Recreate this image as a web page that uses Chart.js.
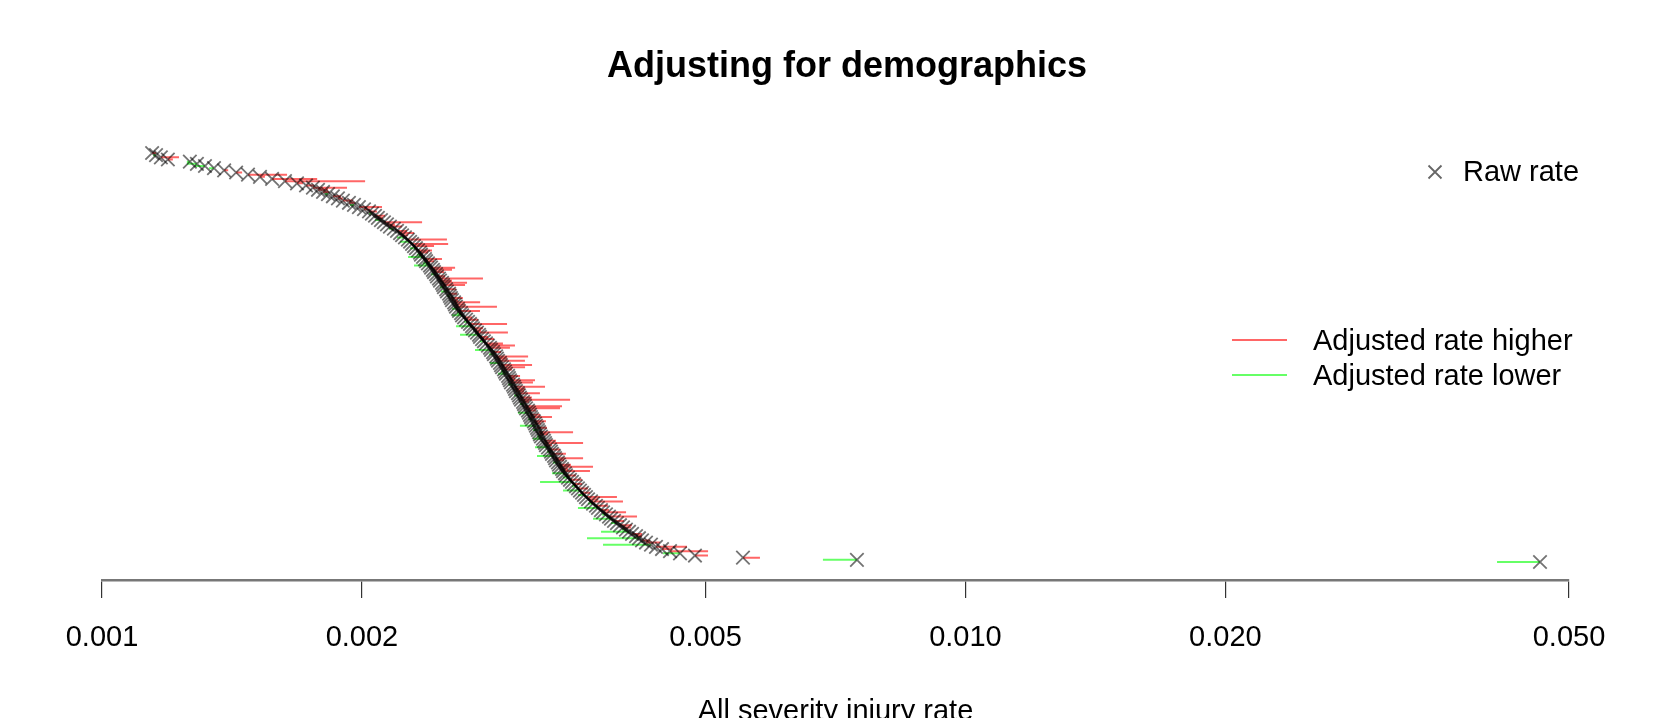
<!DOCTYPE html>
<html>
<head>
<meta charset="utf-8">
<script src="https://cdn.jsdelivr.net/npm/chart.js@4.4.1/dist/chart.umd.min.js"></script>
<style>
  html, body { margin: 0; padding: 0; overflow: hidden; background: #fff; }
</style>
</head>
<body>
<canvas id="myChart" width="1679" height="740"></canvas>
<script>
// raw rates, sorted (rank 0 at the top)
const rawRate = [
  0.001143, 0.001155, 0.001170, 0.001192, 0.001264, 0.001288, 0.001316, 0.001348, 0.001385, 0.001430,
  0.001476, 0.001524, 0.001574, 0.001629, 0.001682, 0.001723, 0.001755, 0.001779, 0.001803, 0.001827,
  0.001851, 0.001876, 0.001901, 0.001932, 0.001958, 0.001984, 0.002011, 0.002038, 0.002054, 0.002071,
  0.002087, 0.002104, 0.002121, 0.002138, 0.002155, 0.002178, 0.002196, 0.002214, 0.002226, 0.002243,
  0.002261, 0.002274, 0.002286, 0.002298, 0.002310, 0.002323, 0.002335, 0.002341, 0.002354, 0.002366,
  0.002373, 0.002385, 0.002398, 0.002405, 0.002417, 0.002424, 0.002437, 0.002443, 0.002456, 0.002463,
  0.002476, 0.002483, 0.002489, 0.002503, 0.002509, 0.002523, 0.002529, 0.002536, 0.002543, 0.002557,
  0.002563, 0.002570, 0.002584, 0.002591, 0.002605, 0.002612, 0.002626, 0.002640, 0.002654, 0.002668,
  0.002682, 0.002689, 0.002704, 0.002718, 0.002733, 0.002740, 0.002755, 0.002769, 0.002784, 0.002799,
  0.002814, 0.002822, 0.002837, 0.002844, 0.002860, 0.002867, 0.002875, 0.002890, 0.002898, 0.002906,
  0.002921, 0.002929, 0.002937, 0.002953, 0.002960, 0.002968, 0.002976, 0.002992, 0.003000, 0.003008,
  0.003016, 0.003032, 0.003040, 0.003048, 0.003057, 0.003073, 0.003081, 0.003089, 0.003098, 0.003114,
  0.003122, 0.003131, 0.003139, 0.003148, 0.003164, 0.003173, 0.003181, 0.003190, 0.003198, 0.003207,
  0.003215, 0.003224, 0.003241, 0.003250, 0.003259, 0.003267, 0.003285, 0.003302, 0.003311, 0.003320,
  0.003338, 0.003347, 0.003356, 0.003373, 0.003382, 0.003392, 0.003410, 0.003419, 0.003437, 0.003446,
  0.003465, 0.003483, 0.003502, 0.003521, 0.003539, 0.003558, 0.003577, 0.003597, 0.003616, 0.003635,
  0.003655, 0.003684, 0.003704, 0.003733, 0.003753, 0.003783, 0.003804, 0.003834, 0.003865, 0.003886,
  0.003917, 0.003948, 0.003980, 0.004012, 0.004044, 0.004077, 0.004110, 0.004154, 0.004187, 0.004221,
  0.004266, 0.004323, 0.004381, 0.004452, 0.004548, 0.004671, 0.004861, 0.005525, 0.007487, 0.04628
];

// demographically adjusted rates, same order
const adjRate = [
  0.001155, 0.001146, 0.001228, 0.001208, 0.001254, 0.001254, 0.001281, 0.001330, 0.001400, 0.001453,
  0.001638, 0.001544, 0.001775, 0.002017, 0.001709, 0.001760, 0.001922, 0.001827, 0.001832, 0.001812,
  0.001891, 0.001901, 0.001952, 0.001963, 0.001937, 0.002110, 0.002043, 0.002082, 0.002038, 0.002127,
  0.002115, 0.002071, 0.002348, 0.002184, 0.002225, 0.002149, 0.002255, 0.002298, 0.002262, 0.002196,
  0.002509, 0.002214, 0.002517, 0.002424, 0.002273, 0.002411, 0.002385, 0.002316, 0.002262, 0.002476,
  0.002424, 0.002354, 0.002298, 0.002564, 0.002543, 0.002489, 0.002405, 0.002496, 0.002762, 0.002543,
  0.002647, 0.002633, 0.002463, 0.002571, 0.002469, 0.002577, 0.002509, 0.002618, 0.002584, 0.002741,
  0.002632, 0.002867, 0.002543, 0.002740, 0.002577, 0.002543, 0.002683, 0.002726, 0.002626, 0.002945,
  0.002570, 0.002762, 0.002748, 0.002952, 0.002598, 0.002799, 0.002845, 0.002740, 0.002913, 0.003008,
  0.002968, 0.002704, 0.002898, 0.002806, 0.003115, 0.002944, 0.003089, 0.002814, 0.003148, 0.003090,
  0.002984, 0.002898, 0.002875, 0.003049, 0.003008, 0.003173, 0.003156, 0.002953, 0.003259, 0.003089,
  0.003081, 0.003215, 0.003000, 0.003147, 0.003484, 0.003122, 0.003048, 0.003410, 0.003392, 0.003181,
  0.003032, 0.003216, 0.003320, 0.003115, 0.003267, 0.003224, 0.003048, 0.003276, 0.003156, 0.003512,
  0.003284, 0.003190, 0.003156, 0.003356, 0.003607, 0.003320, 0.003173, 0.003391, 0.003276, 0.003446,
  0.003190, 0.003607, 0.003428, 0.003328, 0.003492, 0.003704, 0.003465, 0.003674, 0.003320, 0.003539,
  0.003419, 0.003596, 0.003216, 0.003597, 0.003502, 0.003654, 0.003419, 0.003675, 0.003558, 0.003948,
  0.003754, 0.004012, 0.003655, 0.003854, 0.003558, 0.003865, 0.004045, 0.003793, 0.004165, 0.003704,
  0.004023, 0.003885, 0.004109, 0.004099, 0.004001, 0.003784, 0.004221, 0.004221, 0.003645, 0.004312,
  0.004428, 0.003804, 0.004759, 0.004572, 0.005034, 0.004464, 0.005033, 0.005781, 0.006838, 0.04127
];

const tickValues = [0.001, 0.002, 0.005, 0.010, 0.020, 0.050];
const tickLabels = ['0.001', '0.002', '0.005', '0.010', '0.020', '0.050'];

const FONT = '"Liberation Sans", Arial, Helvetica, sans-serif';
Chart.defaults.font.family = FONT;
Chart.defaults.color = '#000';

// one segment per unit, broken with a null point
const higherPts = [];
const lowerPts = [];
rawRate.forEach(function(r, i) {
    const a = adjRate[i];
    const target = a >= r ? higherPts : lowerPts;
    target.push({x: r, y: i}, {x: a, y: i}, {x: r, y: null});
});

// R style title and legends drawn on top
const rDecor = {
    id: 'rDecor',
    afterDraw: function(chart) {
        const ctx = chart.ctx;
        ctx.save();
        ctx.fillStyle = '#000';
        ctx.textBaseline = 'middle';

        ctx.textAlign = 'center';
        ctx.font = 'bold 36px ' + FONT;
        ctx.fillText('Adjusting for demographics', 847, 67);

        ctx.textAlign = 'left';
        ctx.font = '29px ' + FONT;
        ctx.strokeStyle = 'rgba(0,0,0,0.6)';
        ctx.lineWidth = 1.8;
        const cx = 1435, cy = 172, h = 6.5;
        ctx.beginPath();
        ctx.moveTo(cx - h, cy - h); ctx.lineTo(cx + h, cy + h);
        ctx.moveTo(cx + h, cy - h); ctx.lineTo(cx - h, cy + h);
        ctx.stroke();
        ctx.fillText('Raw rate', 1463, cy + 1);

        ctx.lineWidth = 2;
        ctx.strokeStyle = 'rgba(255,0,0,0.6)';
        ctx.beginPath(); ctx.moveTo(1232, 340); ctx.lineTo(1287, 340); ctx.stroke();
        ctx.fillText('Adjusted rate higher', 1313, 342);

        ctx.strokeStyle = 'rgba(0,255,0,0.6)';
        ctx.beginPath(); ctx.moveTo(1232, 375); ctx.lineTo(1287, 375); ctx.stroke();
        ctx.fillText('Adjusted rate lower', 1313, 377);
        ctx.restore();
    }
};

const ctx = document.getElementById('myChart').getContext('2d');
const myChart = new Chart(ctx, {
    type: 'scatter',
    data: {
        datasets: [{
            label: 'Raw rate',
            data: rawRate.map(function(v, i) { return {x: v, y: i}; }),
            showLine: false,
            pointStyle: 'crossRot',
            pointRadius: 9.5,
            pointBorderWidth: 1.8,
            pointBorderColor: 'rgba(0,0,0,0.55)',
            pointBackgroundColor: 'rgba(0,0,0,0)'
        }, {
            label: 'Adjusted rate higher',
            data: higherPts,
            showLine: true,
            spanGaps: false,
            borderColor: 'rgba(255,0,0,0.6)',
            borderWidth: 2,
            pointRadius: 0
        }, {
            label: 'Adjusted rate lower',
            data: lowerPts,
            showLine: true,
            spanGaps: false,
            borderColor: 'rgba(0,255,0,0.6)',
            borderWidth: 2,
            pointRadius: 0
        }]
    },
    options: {
        responsive: false,
        animation: false,
        layout: {
            padding: {left: 102, right: 110, top: 130, bottom: 0}
        },
        scales: {
            x: {
                type: 'logarithmic',
                min: 0.001,
                max: 0.05,
                afterBuildTicks: function(scale) {
                    scale.ticks = tickValues.map(function(v) { return {value: v}; });
                },
                ticks: {
                    autoSkip: false,
                    maxRotation: 0,
                    padding: 22.6,
                    font: {size: 29},
                    color: '#000',
                    callback: function(value) {
                        const k = tickValues.indexOf(value);
                        return k >= 0 ? tickLabels[k] : '';
                    }
                },
                grid: {
                    drawOnChartArea: false,
                    drawTicks: true,
                    tickLength: 18,
                    color: '#333',
                    lineWidth: 1.2
                },
                border: {
                    display: true,
                    color: '#777',
                    width: 2.5
                },
                title: {
                    display: true,
                    text: 'All severity injury rate',
                    font: {size: 29},
                    color: '#000',
                    padding: {top: 16.1, bottom: 11.1}
                }
            },
            y: {
                display: false,
                reverse: true,
                min: -10.63,
                max: 197.31
            }
        },
        plugins: {
            legend: {display: false},
            tooltip: {enabled: false},
            title: {display: false}
        }
    },
    plugins: [rDecor]
});
</script>
</body>
</html>
